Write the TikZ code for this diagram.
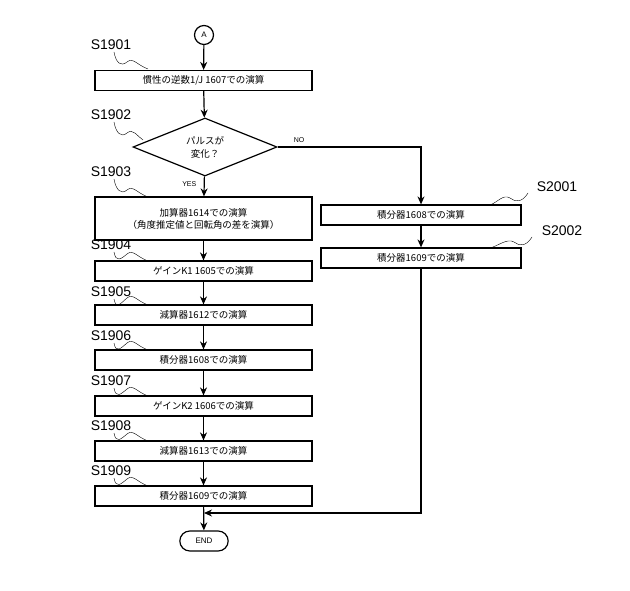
\documentclass[tikz,border=0pt]{standalone}
\usepackage{fontspec}
\setmainfont{Liberation Sans}
\newfontfamily\cjk{Noto Sans CJK JP}
\usetikzlibrary{shapes.geometric,shapes.misc,arrows.meta}
\begin{document}
\begin{tikzpicture}[x=1pt,y=-1pt,
  box/.style={draw,line width=1.2pt,minimum width=217pt,minimum height=20pt,inner sep=1pt,font=\cjk\fontsize{9.5}{12}\selectfont,align=center},
  rbox/.style={box,minimum width=200pt},
  lab/.style={font=\fontsize{14}{16}\selectfont},
  arr/.style={-{Stealth[length=8pt,width=7pt]},line width=1.2pt},
  wav/.style={thin}]
\useasboundingbox (0,0) rectangle (630,591);
\node[draw,line width=1.2pt,circle,minimum size=19pt,inner sep=0pt,font=\fontsize{8}{9}\selectfont] (A) at (204,35) {A};
\node[box] (b1) at (203.5,80.5) {慣性の逆数1/J 1607での演算};
\node[draw,line width=1.2pt,diamond,aspect=2.5,minimum width=144pt,minimum height=58pt,inner sep=0pt,font=\cjk\fontsize{9.5}{13}\selectfont,align=center] (d) at (205,147) {パルスが\\変化？};
\node[box,minimum height=43pt] (b3) at (203.5,218.5) {加算器1614での演算\\（角度推定値と回転角の差を演算）};
\node[box] (b4) at (203.5,271) {ゲインK1 1605での演算};
\node[box] (b5) at (203.5,315) {減算器1612での演算};
\node[box] (b6) at (203.5,360) {積分器1608での演算};
\node[box] (b7) at (203.5,406) {ゲインK2 1606での演算};
\node[box] (b8) at (203.5,451) {減算器1613での演算};
\node[box] (b9) at (203.5,496) {積分器1609での演算};
\node[draw,line width=1.2pt,rounded rectangle,minimum width=55pt,minimum height=20pt,font=\fontsize{8}{9}\selectfont] (end) at (204,541) {END};
\node[rbox] (r1) at (421,215) {積分器1608での演算};
\node[rbox] (r2) at (421,258) {積分器1609での演算};
\draw[arr] (A) -- (b1);
\draw[arr] (b1) -- (d);
\draw[arr] (d) -- node[pos=0.4,left,font=\fontsize{7}{8}\selectfont,xshift=-4pt]{YES} (b3);
\draw[arr] (b3) -- (b4);
\draw[arr] (b4) -- (b5);
\draw[arr] (b5) -- (b6);
\draw[arr] (b6) -- (b7);
\draw[arr] (b7) -- (b8);
\draw[arr] (b8) -- (b9);
\draw[arr] (b9) -- (end);
\draw[arr] (d.east) -- node[pos=0.15,above,font=\fontsize{7}{8}\selectfont]{NO} (421,147) -- (r1);
\draw[arr] (r1) -- (r2);
\coordinate (m) at (204,513);
\draw[arr] (r2) |- (m);
\foreach \n/\t/\y/\bx/\by in {s1/S1901/45/148/69, s2/S1902/115/143/140, s3/S1903/172/148/197, s4/S1904/245/148/261, s5/S1905/292/148/305, s6/S1906/336/148/350, s7/S1907/381/148/396, s8/S1908/426/148/441, s9/S1909/471/148/486}{
  \node[lab] (\n) at (111,\y) {\t};
  \draw[wav] (114,\y+7) .. controls (116,\y+18) and (121,\by-2) .. (127,\by-7) .. controls (133,\by-12) and (137,\by-4) .. (\bx,\by);
}
\node[lab] (s21) at (557,187) {S2001};
\node[lab] (s22) at (562,231) {S2002};
\draw[wav] (528,193) .. controls (522,203) and (515,202) .. (510,198) .. controls (503,194) and (498,202) .. (490,205);
\draw[wav] (532,237) .. controls (526,247) and (519,246) .. (514,242) .. controls (507,238) and (498,246) .. (490,248);
\end{tikzpicture}
\end{document}
